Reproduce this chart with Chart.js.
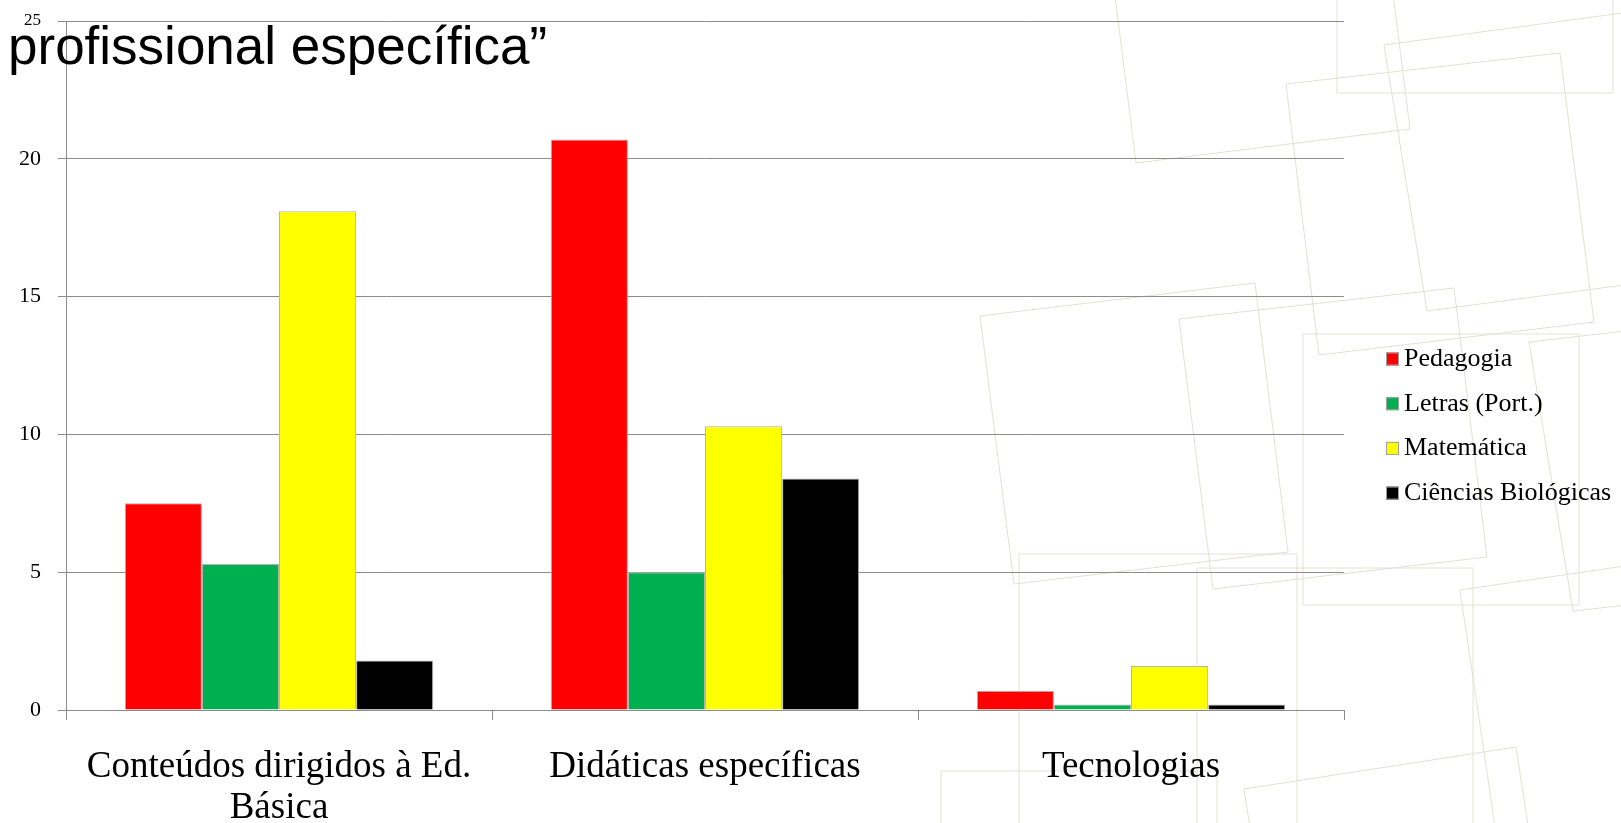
<!DOCTYPE html>
<html>
<head>
<meta charset="utf-8">
<script src="https://cdn.jsdelivr.net/npm/chart.js@4"></script>
<style>
  body { margin: 0; background: #fff; }
  canvas { display: block; }
</style>
</head>
<body>
<canvas id="myChart" width="1621" height="823"></canvas>
<script>
const categories = [['Conteúdos dirigidos à Ed.', 'Básica'], 'Didáticas específicas', 'Tecnologias'];
const pedagogia = [7.5, 20.7, 0.7];
const letras = [5.3, 5.0, 0.2];
const matematica = [18.1, 10.3, 1.6];
const biologicas = [1.8, 8.4, 0.2];
const seriesNames = ['Pedagogia', 'Letras (Port.)', 'Matemática', 'Ciências Biológicas'];
const seriesColors = ['#ff0000', '#00b050', '#ffff00', '#000000'];
const yMax = 25;
const yStep = 5;
const titleText = 'profissional específica\u201d';

// faint squares of the slide template behind the chart
const bgShapes = [
  [[1136, 163], [1410, 129], [1380, -110], [1106, -76]],
  [[1337, -140], [1613, -140], [1613, 93], [1337, 93]],
  [[1286, 84], [1560, 53], [1594, 322], [1319, 355]],
  [[1384, 45], [1660, 8], [1700, 275], [1427, 311]],
  [[980, 316], [1255, 283], [1288, 552], [1014, 584]],
  [[1179, 319], [1454, 288], [1487, 557], [1213, 589]],
  [[1303, 334], [1579, 334], [1579, 605], [1303, 605]],
  [[1529, 342], [1810, 310], [1850, 580], [1573, 611]],
  [[1019, 554], [1297, 554], [1297, 900], [1019, 900]],
  [[1197, 568], [1473, 568], [1473, 900], [1197, 900]],
  [[1460, 590], [1735, 550], [1775, 820], [1500, 860]],
  [[1244, 789], [1516, 747], [1555, 1000], [1283, 1040]],
  [[941, 771], [1217, 771], [1217, 1050], [941, 1050]]
];

const backdrop = {
  id: 'backdrop',
  beforeDraw(chart) {
    const ctx = chart.ctx;
    ctx.save();
    ctx.fillStyle = '#ffffff';
    ctx.fillRect(0, 0, chart.width, chart.height);
    ctx.strokeStyle = '#e3e1d3';
    ctx.lineWidth = 1;
    bgShapes.forEach(pts => {
      ctx.beginPath();
      ctx.moveTo(pts[0][0], pts[0][1]);
      for (let i = 1; i < pts.length; i++) ctx.lineTo(pts[i][0], pts[i][1]);
      ctx.closePath();
      ctx.stroke();
    });
    ctx.restore();
  }
};

// legend on the right and the title line over the top of the plot
const overlay = {
  id: 'overlay',
  afterDraw(chart) {
    const ctx = chart.ctx;
    const area = chart.chartArea;
    ctx.save();
    ctx.font = '26px "Liberation Serif"';
    ctx.textBaseline = 'middle';
    chart.data.datasets.forEach((ds, i) => {
      const y = 359 + i * 44.7;
      const x = area.right + 42;
      ctx.fillStyle = ds.backgroundColor;
      ctx.fillRect(x, y - 6.5, 13, 13);
      ctx.strokeStyle = '#a0a0a0';
      ctx.lineWidth = 1;
      ctx.strokeRect(x + 0.5, y - 6, 12, 12);
      ctx.fillStyle = '#000';
      ctx.fillText(ds.label, x + 18, y);
    });

    ctx.font = '53px "Liberation Sans"';
    ctx.textBaseline = 'alphabetic';
    ctx.fillStyle = '#000';
    ctx.fillText(titleText, 8, 64);
    ctx.restore();
  }
};

const datasets = [pedagogia, letras, matematica, biologicas].map((values, i) => ({
  label: seriesNames[i],
  data: values,
  backgroundColor: seriesColors[i],
  borderColor: '#b4b4b4',
  borderWidth: 1,
  categoryPercentage: 0.724,
  barPercentage: 1
}));

const ctx = document.getElementById('myChart').getContext('2d');

new Chart(ctx, {
  type: 'bar',
  data: {
    labels: categories,
    datasets: datasets
  },
  options: {
    responsive: false,
    animation: false,
    layout: {
      padding: { top: 21, right: 277, left: 0, bottom: 0 }
    },
    plugins: {
      legend: { display: false },
      tooltip: { enabled: false }
    },
    scales: {
      x: {
        grid: {
          drawOnChartArea: false,
          drawTicks: true,
          tickLength: 10,
          color: '#8c8c8c'
        },
        border: { color: '#8c8c8c', width: 1 },
        ticks: {
          color: '#000',
          padding: 27,
          maxRotation: 0,
          font: { family: '"Liberation Serif"', size: 37, lineHeight: 1.11 }
        },
        afterFit(scale) {
          scale.height = 113;
          scale.paddingTop = 0;
          scale.paddingBottom = 0;
        }
      },
      y: {
        min: 0,
        max: yMax,
        grid: {
          color: '#8c8c8c',
          lineWidth: 1,
          tickLength: 8
        },
        border: { color: '#8c8c8c', width: 1 },
        ticks: {
          stepSize: yStep,
          color: '#000',
          padding: 17,
          font: ctx => ({
            family: '"Liberation Serif"',
            size: ctx.tick && ctx.tick.value === yMax ? 17 : 22
          })
        },
        afterFit(scale) {
          scale.width = 66;
          scale.paddingTop = 0;
          scale.paddingBottom = 0;
        }
      }
    }
  },
  plugins: [backdrop, overlay]
});
</script>
</body>
</html>
